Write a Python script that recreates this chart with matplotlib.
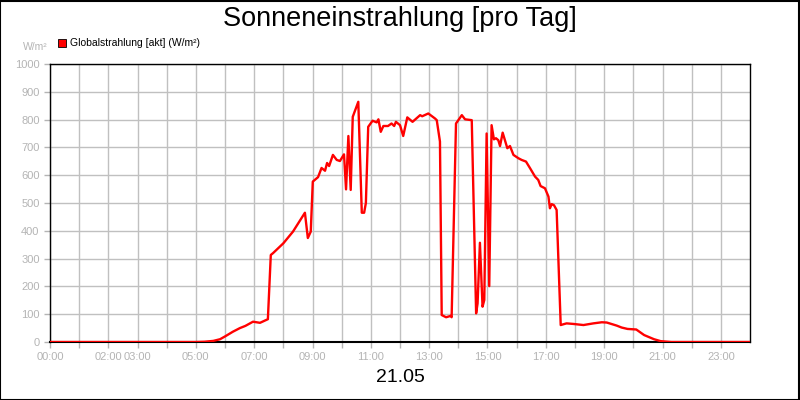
import matplotlib
matplotlib.use("Agg")
import matplotlib.pyplot as plt
from matplotlib.patches import Rectangle

plt.rcParams['font.family'] = ['Liberation Sans', 'DejaVu Sans']

# time in hours, irradiance in W/m²
hours = [0.0, 5.0, 5.3, 5.6, 5.83, 6.0, 6.27, 6.51, 6.7, 6.96, 7.2, 7.47, 7.57, 7.65,
         8.0, 8.33, 8.74, 8.84, 8.94, 9.01, 9.19, 9.31, 9.43, 9.5, 9.57, 9.7, 9.83,
         9.94, 10.08, 10.15, 10.23, 10.31, 10.38, 10.57, 10.69, 10.77, 10.83, 10.91,
         11.06, 11.2, 11.26, 11.34, 11.43, 11.59, 11.71, 11.8, 11.86, 12.0, 12.11,
         12.25, 12.43, 12.69, 12.76, 12.97, 13.2, 13.26, 13.37, 13.43, 13.58, 13.74,
         13.77, 13.92, 14.12, 14.23, 14.46, 14.61, 14.66, 14.74, 14.83, 14.89, 14.97,
         15.06, 15.14, 15.22, 15.29, 15.37, 15.43, 15.52, 15.68, 15.77, 15.89, 16.06,
         16.17, 16.32, 16.46, 16.63, 16.74, 16.82, 16.97, 17.09, 17.14, 17.2, 17.28,
         17.37, 17.51, 17.71, 17.94, 18.29, 18.63, 18.92, 19.09, 19.43, 19.6, 19.8,
         20.1, 20.37, 20.71, 20.94, 21.3, 24.0]
values = [0, 0, 1, 4, 10, 20, 37, 50, 58, 73, 69, 82, 313, 320,
          355, 397, 465, 374, 397, 577, 593, 626, 616, 644, 633, 673, 655,
          651, 675, 549, 741, 547, 810, 864, 465, 465, 500, 774,
          796, 790, 801, 756, 777, 777, 786, 777, 792, 780, 741,
          808, 792, 816, 812, 822, 804, 798, 721, 97, 89, 94,
          89, 786, 816, 801, 798, 103, 139, 357, 127, 151, 750,
          201, 780, 729, 733, 726, 705, 753, 697, 705, 673, 661,
          655, 649, 625, 595, 583, 561, 553, 523, 481, 496, 492,
          475, 61, 67, 65, 61, 67, 71, 70, 59, 52, 47,
          45, 25, 10, 3, 0, 0]

tick_labels = {0: "00:00", 2: "02:00", 3: "03:00", 5: "05:00", 7: "07:00", 9: "09:00",
               11: "11:00", 13: "13:00", 15: "15:00", 17: "17:00", 19: "19:00",
               21: "21:00", 23: "23:00"}
y_ticks = list(range(0, 1001, 100))

fig = plt.figure(figsize=(8, 4), dpi=100)
ax = fig.add_axes([50/800, 58/400, 700/800, 278/400])

ax.plot(hours, values, color='#ff0000', lw=1.7, zorder=3,
        label='Globalstrahlung [akt] (W/m²)')

ax.set_xlim(0, 24)
ax.set_ylim(0, 1000)
ax.set_xticks(range(0, 24))
ax.set_xticklabels([tick_labels.get(h, "") for h in range(0, 24)])
ax.set_yticks(y_ticks)
ax.grid(True, color='#c0c0c0', lw=1, zorder=0)
ax.tick_params(axis='both', colors='#b4b4b4', labelsize=8, length=4, width=1)
for s in ax.spines.values():
    s.set_color('black')
    s.set_linewidth(1)
ax.spines['bottom'].set_linewidth(1.5)

fig.text(0.5, 0.953, 'Sonneneinstrahlung [pro Tag]', ha='center', va='center', fontsize=19.5)
fig.text(0.5, 0.055, '21.05', ha='center', va='center', fontsize=14)
fig.text(48/800, 1 - 47/400, 'W/m²', ha='right', va='center', fontsize=7.5, color='#b4b4b4')

fig.patches.append(Rectangle((58/800, 1 - 47/400), 8/800, 8/400, transform=fig.transFigure,
                             facecolor='#ff0000', edgecolor='black', lw=0.6))
fig.text(70/800, 1 - 43/400, 'Globalstrahlung [akt] (W/m²)', ha='left', va='center', fontsize=7.5)

fig.patches.append(Rectangle((0.0005, 0.001), 0.998, 0.997, transform=fig.transFigure,
                             facecolor='none', edgecolor='black', lw=1.5))

fig.savefig('out.png', dpi=100)
